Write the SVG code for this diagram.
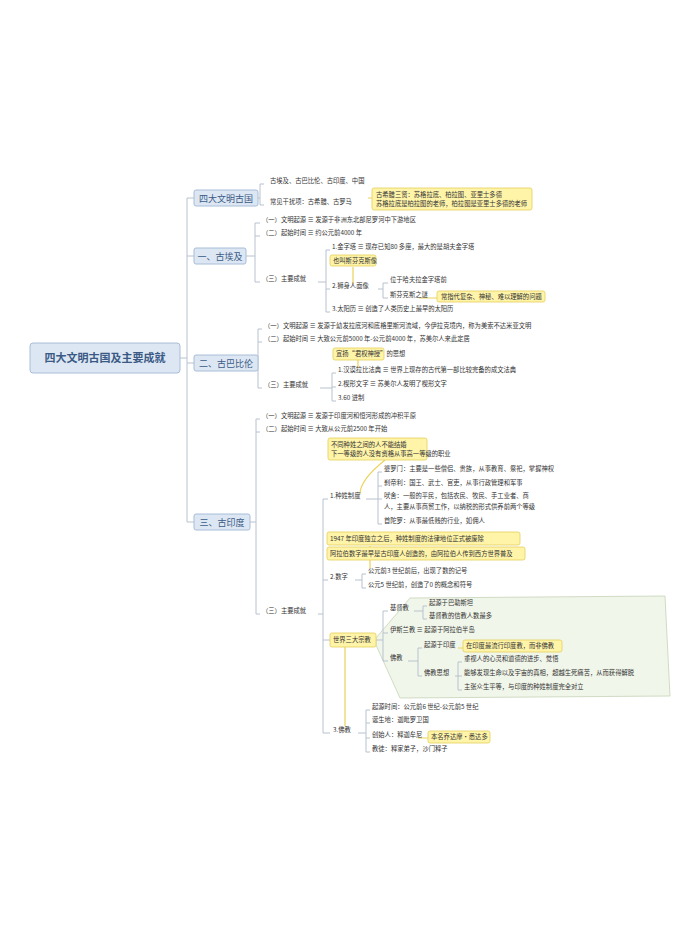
<svg xmlns="http://www.w3.org/2000/svg" width="700" height="933" viewBox="0 0 700 933">
<style>
text{font-family:"Noto Sans CJK SC","Noto Sans",sans-serif;font-size:6.3px;fill:#333}
.br{fill:#dde7f3;stroke:#a8bdd8;stroke-width:1}
.bt{font-size:9px;fill:#3a5a85}
.rt{font-size:11px;font-weight:bold;fill:#3a5a85}
.note{fill:#fff4a8;stroke:#e6cf5a;stroke-width:0.8}
.c{fill:none;stroke:#b8c2cf;stroke-width:1}
.y{fill:none;stroke:#ecd35c;stroke-width:1.2}
.u{stroke:#d3d8df;stroke-width:0.7}
.g{fill:#f1f6ea;stroke:#c5d3b6;stroke-width:0.8}
</style>
<rect width="700" height="933" fill="#fff"/>
<polygon class="g" points="376,638 410,598 665,596 670,696 400,698 376,645"/>
<g id="connectors">
<path class="c" d="M180,358 H187 M187,198 V522 M187,198 H194 M187,256 H194 M187,363 H194 M187,522 H194"/>
<path class="c" d="M258,198 H260 M260,184 V205 M260,184 H264 M260,205 H264"/>
<path class="c" d="M246,256 H255 M255,223 V282 M255,223 H260 M255,236 H260 M255,282 H260"/>
<path class="c" d="M318,282 H326 M326,250 V312 M326,250 H330 M326,289 H330 M326,312 H330"/>
<path class="c" d="M378,289 H383 M383,283 V298 M383,283 H388 M383,298 H388"/>
<path class="c" d="M258,363 H258 M258,329 V388 M258,329 H262 M258,342 H262 M258,388 H262"/>
<path class="c" d="M320,388 H332 M332,373 V401 M332,373 H336 M332,387 H336 M332,401 H336"/>
<path class="c" d="M250,522 H256 M256,419 V614 M256,419 H260 M256,432 H260 M256,614 H260"/>
<path class="c" d="M318,614 H323 M323,499 V733 M323,499 H328 M323,580 H328 M323,640 H330 M323,733 H330"/>
<path class="c" d="M366,499 H378 M378,472 V524 M378,472 H382 M378,486 H382 M378,499 H382 M378,524 H382"/>
<path class="c" d="M355,580 H362 M362,574 V588 M362,574 H366 M362,588 H366"/>
<path class="c" d="M376,640 H383 M383,611 V661 M383,611 H388 M383,633 H388 M383,661 H388"/>
<path class="c" d="M414,611 H423 M423,606 V619 M423,606 H427 M423,619 H427"/>
<path class="c" d="M408,661 H418 M418,648 V676 M418,648 H422 M418,676 H422"/>
<path class="c" d="M455,676 H458 M458,662 V690 M458,662 H462 M458,676 H462 M458,690 H462"/>
<path class="c" d="M358,733 H366 M366,710 V752 M366,710 H370 M366,723 H370 M366,738 H370 M366,752 H370"/>
<path class="y" d="M368,198 H372 M353,267 V284 M419,298 H437 M358,360 V368 M385,460 Q360,480 360,494 M370,546 V568 M345,647 V726 M458,648 H463 M418,738 H428"/>
</g>
<g id="root"><rect class="br" x="30" y="343" width="150" height="30" rx="3"/><text class="rt" x="105" y="362" text-anchor="middle">四大文明古国及主要成就</text></g>
<g id="b1"><rect class="br" x="194" y="190" width="64" height="16" rx="2"/><text class="bt" x="226" y="201.5" text-anchor="middle">四大文明古国</text>
<text x="270" y="183">古埃及、古巴比伦、古印度、中国</text>
<text x="270" y="204">常见干扰项：古希腊、古罗马</text>
<rect class="note" x="372" y="188" width="160" height="22" rx="2"/>
<text x="376" y="197" font-size="5.5">古希腊三贤：苏格拉底、柏拉图、亚里士多德</text>
<text x="376" y="206" font-size="5.5">苏格拉底是柏拉图的老师，柏拉图是亚里士多德的老师</text></g>
<g id="b2"><rect class="br" x="194" y="248" width="52" height="16" rx="2"/><text class="bt" x="220" y="259.5" text-anchor="middle">一、古埃及</text>
<text x="262" y="222">（一）文明起源 ≡ 发源于非洲东北部尼罗河中下游地区</text>
<text x="262" y="235">（二）起始时间 ≡ 约公元前4000 年</text>
<text x="262" y="281">（三）主要成就</text>
<text x="332" y="249">1.金字塔 ≡ 现存已知80 多座，最大的是胡夫金字塔</text>
<rect class="note" x="330" y="255" width="46" height="11" rx="2"/><text x="333" y="263" font-size="5.5">也叫斯芬克斯像</text>
<text x="332" y="288">2.狮身人面像</text>
<text x="390" y="282">位于哈夫拉金字塔前</text>
<text x="390" y="297">斯芬克斯之谜</text>
<rect class="note" x="437" y="291" width="108" height="11" rx="2"/><text x="441" y="299" font-size="5.5">常指代复杂、神秘、难以理解的问题</text>
<text x="332" y="311">3.太阳历 ≡ 创造了人类历史上最早的太阳历</text></g>
<g id="b3"><rect class="br" x="194" y="355" width="64" height="16" rx="2"/><text class="bt" x="226" y="366.5" text-anchor="middle">二、古巴比伦</text>
<text x="264" y="328">（一）文明起源 ≡ 发源于幼发拉底河和底格里斯河流域，今伊拉克境内，称为美索不达米亚文明</text>
<text x="264" y="341">（二）起始时间 ≡ 大致公元前5000 年-公元前4000 年，苏美尔人来此定居</text>
<rect class="note" x="333" y="348" width="51" height="12" rx="2"/><text x="336" y="356" font-size="5.5">宣扬“君权神授”的思想</text>
<text x="264" y="387">（三）主要成就</text>
<text x="338" y="372">1.汉谟拉比法典 ≡ 世界上现存的古代第一部比较完备的成文法典</text>
<text x="338" y="386">2.楔形文字 ≡ 苏美尔人发明了楔形文字</text>
<text x="338" y="400">3.60 进制</text></g>
<g id="b4"><rect class="br" x="194" y="514" width="56" height="16" rx="2"/><text class="bt" x="222" y="525.5" text-anchor="middle">三、古印度</text>
<text x="262" y="418">（一）文明起源 ≡ 发源于印度河和恒河形成的冲积平原</text>
<text x="262" y="431">（二）起始时间 ≡ 大致从公元前2500 年开始</text>
<rect class="note" x="328" y="438" width="99" height="22" rx="2"/>
<text x="331" y="447" font-size="5.5">不同种姓之间的人不能结婚</text>
<text x="331" y="456" font-size="5.5">下一等级的人没有资格从事高一等级的职业</text>
<text x="330" y="498">1.种姓制度</text>
<text x="384" y="471">婆罗门：主要是一些僧侣、贵族，从事教育、祭祀，掌握神权</text>
<text x="384" y="485">刹帝利：国王、武士、官吏，从事行政管理和军事</text>
<text x="384" y="498">吠舍：一般的平民，包括农民、牧民、手工业者、商</text>
<text x="384" y="509">人，主要从事商贸工作，以纳税的形式供养前两个等级</text>
<text x="384" y="523">首陀罗：从事最低贱的行业，如佣人</text>
<rect class="note" x="327" y="532" width="193" height="13" rx="2"/><text x="330" y="541" font-size="5.5">1947 年印度独立之后，种姓制度的法律地位正式被废除</text>
<rect class="note" x="327" y="547" width="198" height="13" rx="2"/><text x="330" y="556" font-size="5.5">阿拉伯数字最早是古印度人创造的，由阿拉伯人传到西方世界普及</text>
<text x="330" y="579">2.数字</text>
<text x="368" y="573">公元前3 世纪前后，出现了数的记号</text>
<text x="368" y="587">公元5 世纪前，创造了0 的概念和符号</text>
<text x="262" y="613">（三）主要成就</text>
<rect class="note" x="330" y="633" width="46" height="14" rx="2"/><text x="333" y="642" font-size="5.5">世界三大宗教</text>
<text x="390" y="610">基督教</text>
<text x="429" y="605">起源于巴勒斯坦</text>
<text x="429" y="618">基督教的信教人数最多</text>
<text x="390" y="632">伊斯兰教 ≡ 起源于阿拉伯半岛</text>
<text x="390" y="660">佛教</text>
<text x="424" y="647">起源于印度</text>
<rect class="note" x="463" y="640" width="99" height="12" rx="2"/><text x="466" y="648" font-size="5.5">在印度最流行印度教，而非佛教</text>
<text x="424" y="675">佛教思想</text>
<text x="464" y="661">重视人的心灵和道德的进步、觉悟</text>
<text x="464" y="675">能够发现生命以及宇宙的真相，超越生死痛苦，从而获得解脱</text>
<text x="464" y="689">主张众生平等，与印度的种姓制度完全对立</text>
<text x="333" y="732">3.佛教</text>
<text x="372" y="709">起源时间：公元前6 世纪-公元前5 世纪</text>
<text x="372" y="722">诞生地：迦毗罗卫国</text>
<text x="372" y="737">创始人：释迦牟尼</text>
<rect class="note" x="428" y="731" width="62" height="12" rx="2"/><text x="431" y="739" font-size="5.5">本名乔达摩·悉达多</text>
<text x="372" y="751">教徒：释家弟子，沙门释子</text></g>
</svg>
